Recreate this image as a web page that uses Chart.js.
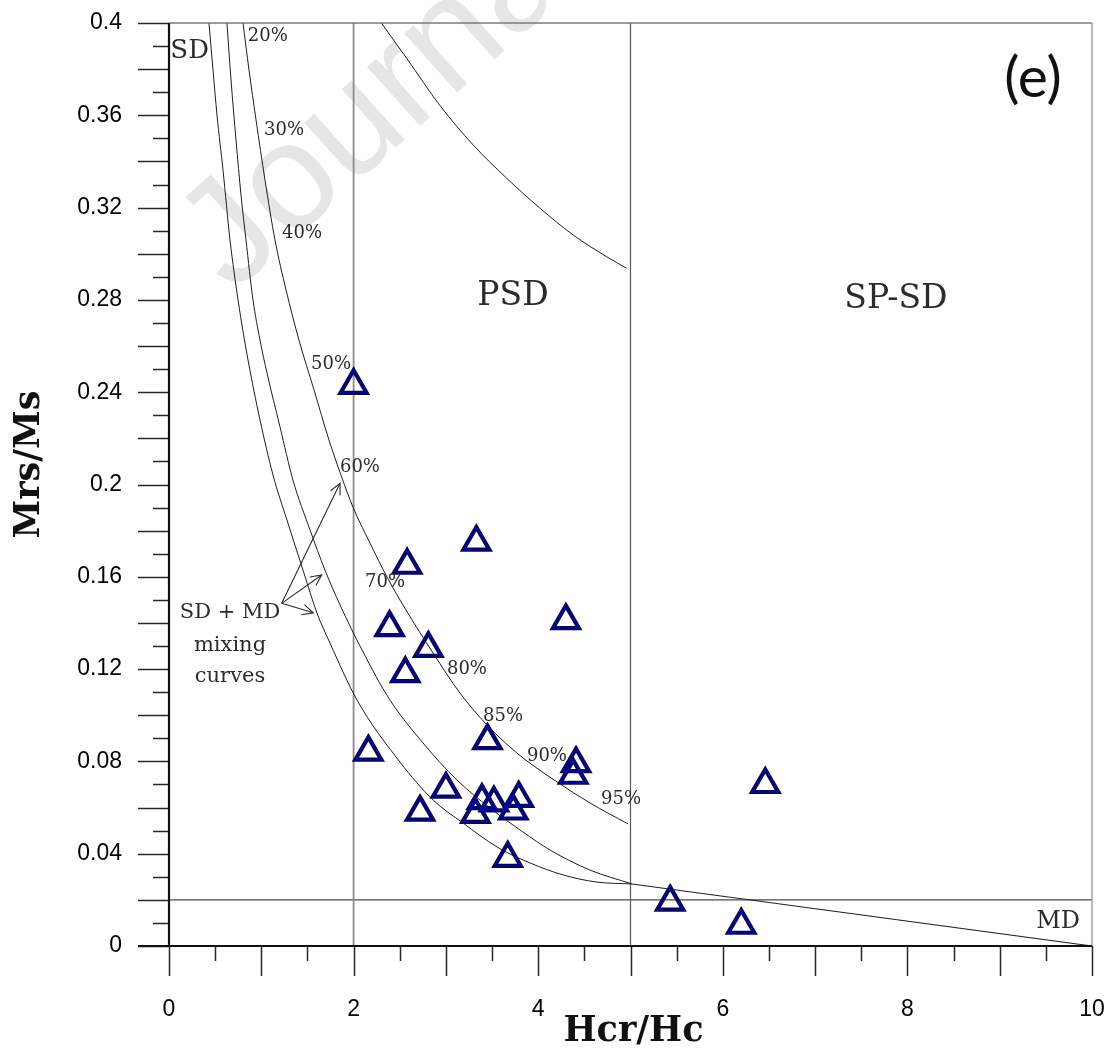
<!DOCTYPE html>
<html>
<head>
<meta charset="utf-8">
<script src="https://cdn.jsdelivr.net/npm/chart.js@4.4.1/dist/chart.umd.min.js"></script>
<style>
  html, body { margin: 0; padding: 0; background: #fff; }
  #wrap { width: 1115px; height: 1059px; position: relative; }
</style>
</head>
<body>
<div id="wrap"><canvas id="c"></canvas></div>
<script>
// ---- Sample data (Day plot) ----
const hcrHc = [2.00, 3.33, 2.58, 4.30, 2.39, 2.81, 2.56, 2.16, 3.45, 4.41, 4.38, 3.00, 2.72, 3.39, 3.52, 3.79, 3.73, 3.32, 3.67, 5.43, 6.20, 6.46];
const mrsMs = [0.243, 0.175, 0.165, 0.141, 0.138, 0.129, 0.118, 0.084, 0.089, 0.079, 0.074, 0.068, 0.058, 0.063, 0.062, 0.064, 0.0585, 0.057, 0.038, 0.019, 0.009, 0.070];

// ---- SD+MD mixing curves ----
const curveA_x = [0.433, 0.477, 0.520, 0.585, 0.661, 0.748, 0.856, 0.986, 1.127, 1.278, 1.452, 1.603, 1.744, 2.037, 2.503, 2.860, 3.185, 3.554, 3.911, 4.269, 4.637, 5.016];
const curveA_y = [0.400, 0.3796, 0.3601, 0.3363, 0.3060, 0.2800, 0.2540, 0.2280, 0.2041, 0.1846, 0.1629, 0.1443, 0.1313, 0.1066, 0.0797, 0.0633, 0.0533, 0.0429, 0.0360, 0.0308, 0.0277, 0.0269];
const curveB_x = [0.628, 0.672, 0.726, 0.780, 0.834, 0.910, 0.986, 1.062, 1.203, 1.343, 1.528, 1.690, 1.853, 2.091, 2.394, 2.752, 3.120, 3.478, 3.835, 4.128, 4.561, 5.016];
const curveB_y = [0.400, 0.3753, 0.3493, 0.3255, 0.3060, 0.2800, 0.2626, 0.2483, 0.2249, 0.2019, 0.1803, 0.1629, 0.1478, 0.1283, 0.1066, 0.0880, 0.0719, 0.0598, 0.0494, 0.0416, 0.0329, 0.0269];
const curveC_x = [0.802, 0.867, 0.943, 1.040, 1.148, 1.268, 1.408, 1.571, 1.733, 1.863, 1.993, 2.178, 2.362, 2.503, 2.860, 3.153, 3.445, 3.770, 4.204, 4.561, 4.973];
const curveC_y = [0.400, 0.3796, 0.3580, 0.3320, 0.3060, 0.2843, 0.2626, 0.2410, 0.2193, 0.2041, 0.1902, 0.1746, 0.1599, 0.1499, 0.1270, 0.1096, 0.0958, 0.0836, 0.0711, 0.0620, 0.0529];
// SP-SD boundary curve
const curveD_x = [2.300, 2.575, 2.936, 3.297, 3.659, 4.020, 4.380, 4.742, 4.959];
const curveD_y = [0.400, 0.3847, 0.3642, 0.3471, 0.3327, 0.3197, 0.3081, 0.2987, 0.2937];
// MD tail line
const mdTail_x = [5.016, 10];
const mdTail_y = [0.0269, 0];

// Domain boundaries
const sdPsdBoundary = 2;
const psdSpBoundary = 5;
const mdMrsLimit = 0.02;

// Axis ranges and tick labels
const xRange = [0, 10];
const yRange = [0, 0.4];
const xTickValues = [0, 2, 4, 6, 8, 10];
const xTickLabels = ['0', '2', '4', '6', '8', '10'];
const yTickValues = [0, 0.04, 0.08, 0.12, 0.16, 0.2, 0.24, 0.28, 0.32, 0.36, 0.4];
const yTickLabels = ['0', '0.04', '0.08', '0.12', '0.16', '0.2', '0.24', '0.28', '0.32', '0.36', '0.4'];

// Curve labels (text, x, y in data units)
const pctLabels = ['20%', '30%', '40%', '50%', '60%', '70%', '80%', '85%', '90%', '95%'];
const pctX = [1.07, 1.246, 1.441, 1.755, 2.069, 2.34, 3.228, 3.619, 4.095, 4.897];
const pctY = [0.3944, 0.3536, 0.309, 0.2522, 0.2076, 0.1577, 0.120, 0.0997, 0.0823, 0.0637];

// Arrows from "SD + MD" note to curves
const arrowFrom = {x: 1.221, y: 0.1485};
const arrowTipsX = [1.853, 1.654, 1.563];
const arrowTipsY = [0.2005, 0.1608, 0.1444];

function pts(xs, ys) { return xs.map((v, i) => ({x: v, y: ys[i]})); }

const curveStyle = {
  type: 'line', showLine: true, pointRadius: 0, pointHoverRadius: 0,
  borderColor: '#1e1e1e', borderWidth: 1, fill: false,
  cubicInterpolationMode: 'monotone'
};
const refStyle = { type: 'line', showLine: true, pointRadius: 0, fill: false, tension: 0 };

const annotationPlugin = {
  id: 'custom',
  beforeDraw(chart) {
    const ctx = chart.ctx;
    ctx.save();
    ctx.fillStyle = '#ffffff';
    ctx.fillRect(0, 0, chart.width, chart.height);
    // watermark
    ctx.translate(232, 294);
    ctx.rotate(-0.73);
    ctx.fillStyle = '#e6e6e6';
    ctx.font = '150px "Liberation Sans", Arial, sans-serif';
    ctx.textBaseline = 'alphabetic';
    ctx.fillText('Journal', 0, 0);
    ctx.restore();
  },
  afterDatasetsDraw(chart) {
    const ctx = chart.ctx;
    const xs = chart.scales.x, ys = chart.scales.y;
    const a = chart.chartArea;
    ctx.save();
    // frame: top and right
    ctx.strokeStyle = '#7a7a7a';
    ctx.lineWidth = 1.4;
    ctx.beginPath(); ctx.moveTo(a.left, a.top); ctx.lineTo(a.right, a.top); ctx.stroke();
    ctx.strokeStyle = '#9a9a9a';
    ctx.beginPath(); ctx.moveTo(a.right, a.top); ctx.lineTo(a.right, a.bottom); ctx.stroke();
    // ticks
    ctx.strokeStyle = '#262626';
    ctx.lineWidth = 1.5;
    for (let i = 0; i <= 40; i++) {
      const py = Math.round(ys.getPixelForValue(i / 100)) + 0.5;
      const len = (i % 2 === 0) ? 31 : 16;
      ctx.beginPath(); ctx.moveTo(a.left - len, py); ctx.lineTo(a.left, py); ctx.stroke();
    }
    for (let i = 0; i <= 20; i++) {
      const px = Math.round(xs.getPixelForValue(i / 2)) + 0.5;
      const len = (i % 2 === 0) ? 30 : 15;
      ctx.beginPath(); ctx.moveTo(px, a.bottom); ctx.lineTo(px, a.bottom + len); ctx.stroke();
    }
    // axes
    ctx.strokeStyle = '#111';
    ctx.lineWidth = 2.2;
    ctx.beginPath(); ctx.moveTo(a.left, a.top); ctx.lineTo(a.left, a.bottom + 1); ctx.stroke();
    ctx.lineWidth = 2;
    ctx.beginPath(); ctx.moveTo(a.left - 31, a.bottom); ctx.lineTo(a.right, a.bottom); ctx.stroke();

    // arrows
    ctx.strokeStyle = '#2a2a2a';
    ctx.lineWidth = 1.1;
    const fx = xs.getPixelForValue(arrowFrom.x), fy = ys.getPixelForValue(arrowFrom.y);
    arrowTipsX.forEach((tx, i) => {
      const px = xs.getPixelForValue(tx), py = ys.getPixelForValue(arrowTipsY[i]);
      const ang = Math.atan2(py - fy, px - fx);
      ctx.beginPath(); ctx.moveTo(fx, fy); ctx.lineTo(px, py); ctx.stroke();
      const L = 12, w = 0.45;
      ctx.beginPath();
      ctx.moveTo(px - L * Math.cos(ang - w), py - L * Math.sin(ang - w));
      ctx.lineTo(px, py);
      ctx.lineTo(px - L * Math.cos(ang + w), py - L * Math.sin(ang + w));
      ctx.stroke();
    });

    // text annotations
    ctx.fillStyle = '#2b2b2b';
    ctx.textAlign = 'center';
    ctx.textBaseline = 'middle';
    ctx.font = '18px "DejaVu Serif", serif';
    pctLabels.forEach((t, i) => {
      ctx.fillText(t, xs.getPixelForValue(pctX[i]), ys.getPixelForValue(pctY[i]));
    });
    ctx.font = '26px "DejaVu Serif", serif';
    ctx.fillText('SD', xs.getPixelForValue(0.224), ys.getPixelForValue(0.3876));
    ctx.font = '33px "DejaVu Serif", serif';
    ctx.fillText('PSD', xs.getPixelForValue(3.727), ys.getPixelForValue(0.2813));
    ctx.fillText('SP-SD', xs.getPixelForValue(7.876), ys.getPixelForValue(0.280));
    ctx.font = '24px "DejaVu Serif", serif';
    ctx.fillText('MD', xs.getPixelForValue(9.632), ys.getPixelForValue(0.0104));
    ctx.font = '21px "DejaVu Serif", serif';
    ctx.fillText('SD + MD', xs.getPixelForValue(0.661), ys.getPixelForValue(0.1443));
    ctx.fillText('mixing', xs.getPixelForValue(0.661), ys.getPixelForValue(0.1304));
    ctx.fillText('curves', xs.getPixelForValue(0.661), ys.getPixelForValue(0.1166));
    ctx.fillStyle = '#111';
    ctx.font = '57px Lato, "Open Sans", sans-serif';
    ctx.fillText('(e)', xs.getPixelForValue(9.36), ys.getPixelForValue(0.3757));
    ctx.restore();
  },
  afterDraw(chart) {
    const ctx = chart.ctx;
    const a = chart.chartArea;
    ctx.save();
    ctx.fillStyle = '#111';
    ctx.font = 'bold 35px "DejaVu Serif", serif';
    ctx.textAlign = 'center';
    ctx.textBaseline = 'middle';
    ctx.fillText('Hcr/Hc', (a.left + a.right) / 2 + 3, chart.height - 27);
    ctx.translate(30, (a.top + a.bottom) / 2 - 20);
    ctx.rotate(-Math.PI / 2);
    ctx.fillText('Mrs/Ms', 0, 0);
    ctx.restore();
  }
};

const samples = pts(hcrHc, mrsMs);

new Chart(document.getElementById('c'), {
  type: 'scatter',
  data: {
    datasets: [
      { label: 'Samples', data: samples, pointStyle: 'triangle', pointRadius: 15, pointHoverRadius: 15,
        pointBorderWidth: 2, pointBackgroundColor: 'rgba(0,0,0,0)', pointBorderColor: '#0000b0', showLine: false },
      { label: 'Samples outline', data: samples, pointStyle: 'triangle', pointRadius: 15, pointHoverRadius: 15,
        pointBorderWidth: 4.2, pointBackgroundColor: 'rgba(0,0,0,0)', pointBorderColor: '#0a0a28', showLine: false },
      Object.assign({ label: 'Curve A', data: pts(curveA_x, curveA_y) }, curveStyle),
      Object.assign({ label: 'Curve B', data: pts(curveB_x, curveB_y) }, curveStyle),
      Object.assign({ label: 'Curve C', data: pts(curveC_x, curveC_y) }, curveStyle),
      Object.assign({ label: 'SP-SD curve', data: pts(curveD_x, curveD_y) }, curveStyle),
      Object.assign({ label: 'MD tail', data: pts(mdTail_x, mdTail_y), borderColor: '#222', borderWidth: 1.1 }, refStyle),
      Object.assign({ label: 'SD|PSD', data: [{x: sdPsdBoundary, y: yRange[0]}, {x: sdPsdBoundary, y: yRange[1]}], borderColor: '#8c8c8c', borderWidth: 1.8 }, refStyle),
      Object.assign({ label: 'PSD|SP', data: [{x: psdSpBoundary, y: yRange[0]}, {x: psdSpBoundary, y: yRange[1]}], borderColor: '#5a5a5a', borderWidth: 1.2 }, refStyle),
      Object.assign({ label: 'MD limit', data: [{x: xRange[0], y: mdMrsLimit}, {x: xRange[1], y: mdMrsLimit}], borderColor: '#4a4a4a', borderWidth: 1.3 }, refStyle)
    ]
  },
  options: {
    responsive: true,
    maintainAspectRatio: false,
    animation: false,
    events: [],
    layout: { padding: { top: 23, right: 23, left: 0, bottom: 0 } },
    plugins: { legend: { display: false }, tooltip: { enabled: false } },
    scales: {
      x: {
        type: 'linear', min: xRange[0], max: xRange[1],
        grid: { display: true, drawOnChartArea: false, drawTicks: true, tickLength: 50, color: 'rgba(0,0,0,0)', tickColor: 'rgba(0,0,0,0)' },
        border: { display: false },
        ticks: {
          stepSize: 0.5, autoSkip: false, maxRotation: 0, padding: 0,
          color: '#000', font: { family: '"Liberation Sans", Arial, sans-serif', size: 23 },
          callback: (v) => { const i = xTickValues.findIndex(t => Math.abs(t - v) < 1e-6); return i >= 0 ? xTickLabels[i] : ''; }
        },
        afterFit: (s) => { s.height = 113; }
      },
      y: {
        type: 'linear', min: yRange[0], max: yRange[1],
        grid: { display: true, drawOnChartArea: false, drawTicks: true, tickLength: 47, color: 'rgba(0,0,0,0)', tickColor: 'rgba(0,0,0,0)' },
        border: { display: false },
        ticks: {
          stepSize: 0.01, autoSkip: false, padding: 0,
          color: '#000', font: { family: '"Liberation Sans", Arial, sans-serif', size: 23 },
          callback: (v) => { const i = yTickValues.findIndex(t => Math.abs(t - v) < 1e-6); return i >= 0 ? yTickLabels[i] : ''; }
        },
        afterFit: (s) => { s.width = 169; }
      }
    }
  },
  plugins: [annotationPlugin]
});
</script>
</body>
</html>
